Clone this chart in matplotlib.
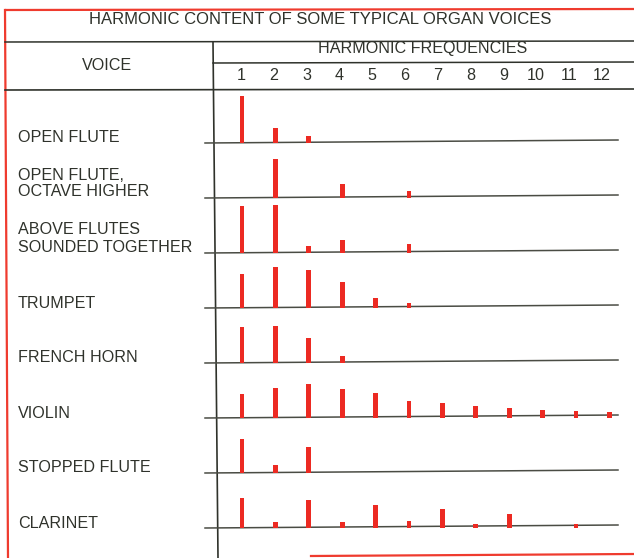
import matplotlib
matplotlib.use("Agg")
import matplotlib.pyplot as plt

# Relative amplitude of each harmonic (1..12) for every organ voice
harmonics = list(range(1, 13))
voices = [
    "OPEN FLUTE",
    "OPEN FLUTE,\nOCTAVE HIGHER",
    "ABOVE FLUTES\nSOUNDED TOGETHER",
    "TRUMPET",
    "FRENCH HORN",
    "VIOLIN",
    "STOPPED FLUTE",
    "CLARINET",
]
open_flute      = [47, 15, 7, 0, 0, 0, 0, 0, 0, 0, 0, 0]
open_flute_oct  = [0, 39, 0, 14, 0, 7, 0, 0, 0, 0, 0, 0]
flutes_together = [47, 48, 7, 13, 0, 9, 0, 0, 0, 0, 0, 0]
trumpet         = [34, 41, 38, 26, 10, 5, 0, 0, 0, 0, 0, 0]
french_horn     = [36, 37, 25, 7, 0, 0, 0, 0, 0, 0, 0, 0]
violin          = [24, 30, 34, 29, 25, 17, 15, 12, 10, 8, 7, 6]
stopped_flute   = [34, 8, 26, 0, 0, 0, 0, 0, 0, 0, 0, 0]
clarinet        = [30, 6, 28, 6, 23, 7, 19, 4, 14, 0, 4, 0]
series = [open_flute, open_flute_oct, flutes_together, trumpet,
          french_horn, violin, stopped_flute, clarinet]

title = "HARMONIC CONTENT OF SOME TYPICAL ORGAN VOICES"
voice_header = "VOICE"
freq_header = "HARMONIC FREQUENCIES"

W, H = 634, 558
fig = plt.figure(figsize=(W / 100, H / 100), dpi=100)
fig.patch.set_facecolor("white")

ink = "#2f322b"
red_border = "#ef3b2e"
bar_red = "#ec2a22"
font = "Liberation Sans"
fs = 11.6

# Background layer in pixel coordinates for the table frame and labels
bg = fig.add_axes([0, 0, 1, 1])
bg.set_xlim(0, W)
bg.set_ylim(H, 0)
bg.axis("off")

# red outer frame
bg.plot([5, W], [10, 9], color=red_border, lw=1.6, solid_capstyle="butt")
bg.plot([5, 8], [10, H], color=red_border, lw=1.6)
bg.plot([311, W], [556, 554], color=red_border, lw=1.6)

# header rules
bg.plot([5, W], [42, 41], color=ink, lw=1.1)
bg.plot([213, W], [63, 62], color=ink, lw=1.1)
bg.plot([5, W], [90, 89], color=ink, lw=1.2)
bg.plot([213, 218], [42, H], color=ink, lw=1.2)

bg.text(320, 20, title, ha="center", va="center", fontsize=12,
        family=font, color=ink)
bg.text(107, 65, voice_header, ha="center", va="center", fontsize=fs,
        family=font, color=ink)
bg.text(423, 49, freq_header, ha="center", va="center", fontsize=fs,
        family=font, color=ink)

# Row geometry
row_h = 55
first_base = 143
x_left, x_right = 213, W
px_per_h = 33.4
x0_px = 242  # pixel position of harmonic 1

for k in harmonics:
    bg.text(241 + (k - 1) * 32.8, 75, str(k), ha="center",
            va="center", fontsize=fs, family=font, color=ink)

xmin = 1 - (x0_px - x_left) / px_per_h
xmax = 1 + (x_right - x0_px) / px_per_h

for i, (name, vals) in enumerate(zip(voices, series)):
    base = first_base + i * row_h
    bg.plot([205, 618], [base, base - 3], color="#4a4c44", lw=1.1)
    ax = fig.add_axes([x_left / W, 1 - base / H, (x_right - x_left) / W, row_h / H])
    ax.set_xlim(xmin, xmax)
    ax.set_ylim(0, row_h)
    ax.axis("off")
    ax.patch.set_alpha(0)
    ax.bar(harmonics, vals, width=0.14, color=bar_red, edgecolor="none")
    lines = name.split("\n")
    if len(lines) == 1:
        bg.text(18, base - 5, name, ha="left", va="center", fontsize=fs,
                family=font, color=ink)
    else:
        bg.text(18, base - 23, lines[0], ha="left", va="center", fontsize=fs,
                family=font, color=ink)
        bg.text(18, base - 6, lines[1], ha="left", va="center", fontsize=fs,
                family=font, color=ink)

fig.savefig("out.png", dpi=100, facecolor="white")
